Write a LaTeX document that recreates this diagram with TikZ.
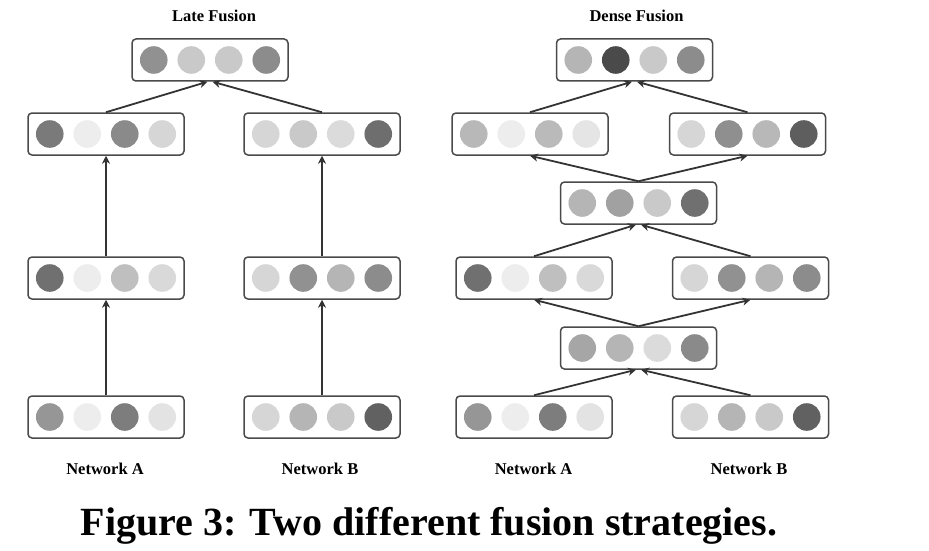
\documentclass[tikz,border=0pt]{standalone}
\usepackage{fontspec}
\setmainfont{Liberation Serif}
\usetikzlibrary{arrows.meta}
\definecolor{boxline}{HTML}{4A4A4A}
\definecolor{arrline}{HTML}{333333}
\tikzset{
  layer/.style={draw=boxline, line width=1.5pt, rounded corners=4pt, fill=white,
    minimum width=156pt, minimum height=42pt, inner sep=0pt},
  conn/.style={draw=arrline, line width=1.8pt, -{Stealth[length=8pt,width=8pt,inset=2.5pt]}},
  lbl/.style={font=\fontsize{16.5}{18}\selectfont\bfseries, inner sep=0pt},
  captiontext/.style={font=\fontsize{40}{44}\selectfont\bfseries, inner sep=0pt, anchor=base}
}
% \mklayer{name}{x}{y}{c1}{c2}{c3}{c4}
\newcommand{\mklayer}[7]{%
  \node[layer] (#1) at (#2,#3) {};
  \fill[fill=#4] ([xshift=-56.25pt]#1.center) circle[radius=13.8pt];
  \fill[fill=#5] ([xshift=-18.75pt]#1.center) circle[radius=13.8pt];
  \fill[fill=#6] ([xshift=18.75pt]#1.center) circle[radius=13.8pt];
  \fill[fill=#7] ([xshift=56.25pt]#1.center) circle[radius=13.8pt];
}
\begin{document}
\begin{tikzpicture}[x=1pt,y=-1pt]
\useasboundingbox (0,0) rectangle (929,551);
% ---------- Late Fusion ----------
\node[lbl] (tl) at (214,16) {Late Fusion};
\mklayer{LT}{210}{60}{black!43}{black!21}{black!21}{black!45}
\mklayer{LAa}{106}{134}{black!52}{black!7}{black!46}{black!16}
\mklayer{LAb}{322}{134}{black!16}{black!21}{black!14}{black!57}
\mklayer{LBa}{106}{278}{black!56}{black!7}{black!25}{black!15}
\mklayer{LBb}{322}{278}{black!16}{black!43}{black!29}{black!45}
\mklayer{LCa}{106}{417}{black!41}{black!7}{black!51}{black!11}
\mklayer{LCb}{322}{417}{black!16}{black!29}{black!21}{black!62}
\draw[conn] (LAa.north) -- ([xshift=-2.5pt]LT.south);
\draw[conn] (LAb.north) -- ([xshift=2.5pt]LT.south);
\draw[conn] (LBa.north) -- (LAa.south);
\draw[conn] (LBb.north) -- (LAb.south);
\draw[conn] (LCa.north) -- (LBa.south);
\draw[conn] (LCb.north) -- (LBb.south);
\node[lbl] (na1) at (105,469) {Network A};
\node[lbl] (nb1) at (320,469) {Network B};
% ---------- Dense Fusion ----------
\node[lbl] (td) at (636.5,16) {Dense Fusion};
\mklayer{DT}{634.5}{60}{black!29}{black!71}{black!21}{black!45}
\mklayer{DAa}{530}{134}{black!28}{black!7}{black!27}{black!10}
\mklayer{DAb}{747.5}{134}{black!16}{black!44}{black!28}{black!63}
\mklayer{DM}{638.5}{203}{black!29}{black!37}{black!21}{black!56}
\mklayer{DBa}{534}{278}{black!56}{black!7}{black!25}{black!15}
\mklayer{DBb}{750.5}{278}{black!16}{black!43}{black!29}{black!45}
\mklayer{DN}{638.5}{348}{black!35}{black!29}{black!14}{black!46}
\mklayer{DCa}{534}{417}{black!41}{black!7}{black!51}{black!11}
\mklayer{DCb}{750.5}{417}{black!16}{black!29}{black!21}{black!62}
\draw[conn] (DAa.north) -- ([xshift=-2.5pt]DT.south);
\draw[conn] (DAb.north) -- ([xshift=2.5pt]DT.south);
\draw[conn] (DM.north) -- (DAa.south);
\draw[conn] (DM.north) -- (DAb.south);
\draw[conn] (DBa.north) -- ([xshift=-2.5pt]DM.south);
\draw[conn] (DBb.north) -- ([xshift=2.5pt]DM.south);
\draw[conn] (DN.north) -- (DBa.south);
\draw[conn] (DN.north) -- (DBb.south);
\draw[conn] (DCa.north) -- ([xshift=-2.5pt]DN.south);
\draw[conn] (DCb.north) -- ([xshift=2.5pt]DN.south);
\node[lbl] (na2) at (533.5,469) {Network A};
\node[lbl] (nb2) at (749,469) {Network B};
% ---------- Caption ----------
\node[captiontext] (caption) at (429,535) {Figure 3: Two different fusion strategies.};
\end{tikzpicture}
\end{document}
